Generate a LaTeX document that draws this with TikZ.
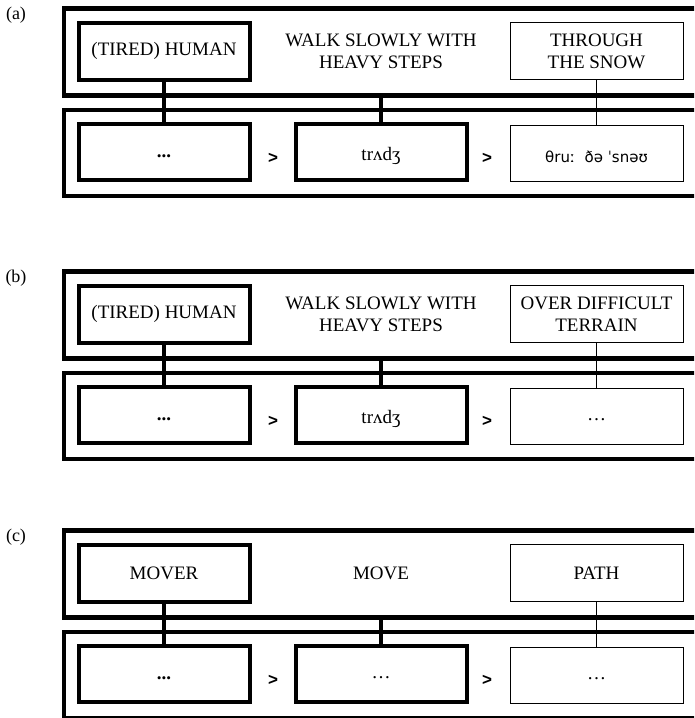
\documentclass[tikz,border=0pt]{standalone}
\usepackage{fontspec}
\setmainfont{Liberation Serif}
\newfontfamily\ipasans{DejaVu Sans}
\newfontfamily\gtfont{Liberation Sans}
\newcommand\capfont{\fontsize{19}{22}\selectfont}
\newcommand\labfont{\fontsize{18}{21}\selectfont}
\newcommand\ipafont{\ipasans\fontsize{15}{18}\selectfont}
\newcommand\gtsize{\gtfont\bfseries\fontsize{17}{20}\selectfont}
\newcommand\low[1]{\raisebox{-4pt}[\height][\depth]{#1}}
\tikzset{
  outerline/.style={line width=4.5pt},
  heavybox/.style={draw, line width=4pt, minimum width=171pt, minimum height=57pt, inner sep=0pt, font=\capfont, align=center},
  thinbox/.style={draw, line width=1pt, minimum width=173pt, minimum height=57pt, inner sep=0pt, font=\capfont, align=center},
  lowbox/.style={minimum height=56pt},
  heavyline/.style={line width=4.5pt},
  thinline/.style={line width=1pt},
  midtext/.style={font=\capfont, align=center, inner sep=0pt},
  gtsign/.style={font=\gtsize, inner sep=0pt},
  panellab/.style={font=\labfont, inner sep=0pt}
}
% #1 prefix, #2 y offset, #3 label, #4 top-left, #5 middle, #6 top-right, #7 lower middle, #8 lower right
\newcommand\DrawPanel[8]{%
\begin{scope}[yshift=-#2pt]
  \draw[outerline] (699,8.5) -| (64,95.5) -- (699,95.5);
  \draw[outerline] (699,110) -| (64,196) -- (699,196);
  \node[heavybox] (#1A) at (164,51) {#4};
  \node[heavybox, lowbox] (#1B) at (164,152) {\low{\textbf{...}}};
  \node[heavybox, lowbox] (#1C) at (381,152) {\low{#7}};
  \node[thinbox] (#1D) at (596.5,51) {#6};
  \node[thinbox, lowbox] (#1E) at (596.5,153) {\low{#8}};
  \node[midtext] (#1M) at (381,51) {#5};
  \coordinate (#1m) at (381,95.5);
  \draw[heavyline] (#1A) -- (#1B);
  \draw[heavyline] (#1m) -- (#1C);
  \draw[thinline] (#1D) -- (#1E);
  \node[gtsign] (#1g) at (273,158) {>};
  \node[gtsign] (#1h) at (487,158) {>};
  \node[panellab] (#1L) at (16,15) {#3};
\end{scope}}
\begin{document}
\begin{tikzpicture}[x=1pt, y=-1pt]
  \useasboundingbox (0,0) rectangle (694,718);
  \clip (0,0) rectangle (694,718);
  \fill[white] (0,0) rectangle (694,718);
  \DrawPanel{pa}{0}{(a)}{(TIRED) HUMAN}{WALK SLOWLY WITH\\HEAVY STEPS}{THROUGH\\THE SNOW}{trʌdʒ}{\ipafont θruː\ \ ðə ˈsnəʊ}
  \DrawPanel{pb}{263}{(b)}{(TIRED) HUMAN}{WALK SLOWLY WITH\\HEAVY STEPS}{OVER DIFFICULT\\TERRAIN}{trʌdʒ}{\dots}
  \DrawPanel{pc}{522}{(c)}{MOVER}{MOVE}{PATH}{\dots}{\dots}
\end{tikzpicture}
\end{document}
